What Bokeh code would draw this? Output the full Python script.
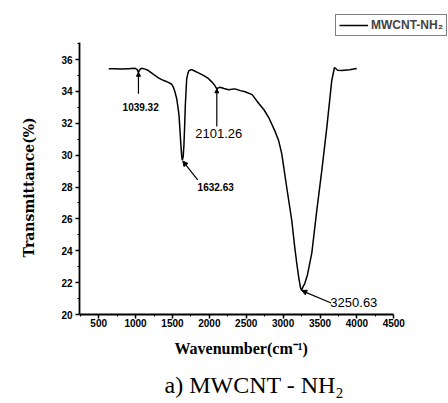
from bokeh.plotting import figure
from bokeh.models import (FixedTicker, Label, Arrow, NormalHead, Legend, LegendItem, Title)
from bokeh.embed import file_html
from bokeh.resources import INLINE

# ---- data ----
wavenumber = [636, 700, 812, 900, 992, 1020, 1039, 1060, 1083, 1130, 1174, 1220, 1263,
              1310, 1354, 1400, 1445, 1490, 1513, 1535, 1558, 1575, 1589, 1600, 1612,
              1624, 1633, 1645, 1655, 1665, 1675, 1693, 1710, 1725, 1761, 1800, 1852,
              1900, 1941, 1990, 2032, 2070, 2101, 2120, 2145, 2200, 2259, 2300, 2348,
              2420, 2484, 2580, 2670, 2740, 2805, 2886, 2940, 2981, 3049, 3117, 3158,
              3185, 3212, 3235, 3250, 3270, 3293, 3330, 3388, 3456, 3524,
              3592, 3659, 3696, 3740, 3795, 3900, 3998]
transmittance = [35.42, 35.42, 35.41, 35.43, 35.45, 35.38, 35.2, 35.38, 35.45, 35.4, 35.31,
                 35.15, 35.0, 34.85, 34.74, 34.65, 34.57, 34.45, 34.26, 33.95, 33.53, 33.0,
                 32.48, 31.7, 30.8, 30.0, 29.68, 29.9, 30.6, 31.8, 33.2, 34.79, 35.15, 35.31,
                 35.37, 35.28, 35.16, 35.05, 34.95, 34.8, 34.6, 34.4, 34.16, 34.22, 34.26,
                 34.18, 34.11, 34.13, 34.16, 34.05, 33.98, 33.8, 33.24, 32.85, 32.36, 31.54,
                 30.9, 30.10, 27.97, 25.9, 24.2, 23.2, 22.32, 21.7, 21.5, 21.75, 21.94, 22.5,
                 23.83, 26.52, 29.03, 31.73, 34.68, 35.5, 35.33, 35.31, 35.36, 35.44]

peak_labels = ["1039.32", "1632.63", "2101.26", "3250.63"]
peak_x = [1039, 1640, 2101, 3252]
peak_y = [35.2, 29.68, 34.16, 21.5]

x_ticks = [500, 1000, 1500, 2000, 2500, 3000, 3500, 4000, 4500]
x_minor = [250, 750, 1250, 1750, 2250, 2750, 3250, 3750, 4250]
y_ticks = [20, 22, 24, 26, 28, 30, 32, 34, 36]
y_minor = [21, 23, 25, 27, 29, 31, 33, 35, 37]
x_axis_span = (240, 4500)
y_axis_span = (20, 37.07)

x_title = "Wavenumber(cm\u207b\u00b9)"
y_title = "Transmittance(%)"
series_name = "MWCNT-NH\u2082"
caption = "a) MWCNT - NH\u2082"

# ---- figure ----
# the frame is extended up and right so that the legend can sit inside it;
# the axes themselves are bounded to the reference's axis span
p = figure(width=448, height=403, x_range=(240, 5241.5), y_range=(20, 39.706),
           output_backend="svg", toolbar_location=None,
           min_border_left=77, min_border_right=0, min_border_top=0, min_border_bottom=89)
p.outline_line_color = None
p.xgrid.visible = False
p.ygrid.visible = False
p.background_fill_color = "white"
p.border_fill_color = "white"

line = p.line(wavenumber, transmittance, line_color="black", line_width=1.5)

for ax in (p.xaxis[0], p.yaxis[0]):
    ax.axis_line_width = 1.8
    ax.axis_line_color = "black"
    ax.major_tick_line_color = "black"
    ax.minor_tick_line_color = "black"
    ax.major_tick_line_width = 1.5
    ax.major_tick_out = 4
    ax.major_tick_in = 0
    ax.minor_tick_out = 2
    ax.minor_tick_in = 0
    ax.major_label_text_font = "Liberation Sans"
    ax.major_label_text_font_style = "bold"
    ax.major_label_text_font_size = "10px"
    ax.major_label_text_color = "black"

p.xaxis.bounds = x_axis_span
p.yaxis.bounds = y_axis_span
p.xaxis.ticker = FixedTicker(ticks=x_ticks, minor_ticks=x_minor)
p.yaxis.ticker = FixedTicker(ticks=y_ticks, minor_ticks=y_minor)
p.xaxis.major_label_standoff = 0
p.yaxis.major_label_standoff = 3

# axis titles placed as panel titles so they can sit under the bounded axes
ylab = Title(text=y_title, align="left", offset=57, vertical_align="top", standoff=40,
             text_font="DejaVu Serif", text_font_style="bold", text_font_size="14px",
             text_color="black")
p.add_layout(ylab, "left")
xlab = Title(text=x_title, align="left", offset=95, vertical_align="top", standoff=21,
             text_font="Liberation Serif", text_font_style="bold", text_font_size="16px",
             text_color="black")
p.add_layout(xlab, "below")

# ---- peak annotations ----
p.add_layout(Arrow(end=NormalHead(size=4, fill_color="black", line_color="black"),
                   x_start=peak_x[0], y_start=33.86, x_end=peak_x[0], y_end=peak_y[0],
                   line_width=1.2, line_color="black"))
p.add_layout(Label(x=1069, y=33.05, text=peak_labels[0], text_font="Liberation Sans",
                   text_font_style="bold", text_font_size="10px", text_align="center",
                   text_baseline="middle", text_color="black"))
p.add_layout(Arrow(end=NormalHead(size=4, fill_color="black", line_color="black"),
                   x_start=peak_x[2], y_start=31.8, x_end=peak_x[2], y_end=peak_y[2],
                   line_width=1.2, line_color="black"))
p.add_layout(Label(x=2127, y=31.36, text=peak_labels[2], text_font="Liberation Sans",
                   text_font_size="13px", text_align="center", text_baseline="middle",
                   text_color="black"))
p.add_layout(Arrow(end=NormalHead(size=5, fill_color="black", line_color="black"),
                   x_start=1842, y_start=28.45, x_end=peak_x[1], y_end=peak_y[1] - 0.05,
                   line_width=1.2, line_color="black"))
p.add_layout(Label(x=2086, y=27.99, text=peak_labels[1], text_font="Liberation Sans",
                   text_font_style="bold", text_font_size="10px", text_align="center",
                   text_baseline="middle", text_color="black"))
p.add_layout(Arrow(end=NormalHead(size=5, fill_color="black", line_color="black"),
                   x_start=3650, y_start=20.72, x_end=peak_x[3], y_end=peak_y[3],
                   line_width=1.2, line_color="black"))
p.add_layout(Label(x=3640, y=20.75, text=peak_labels[3], text_font="Liberation Sans",
                   text_font_size="13px", text_align="left", text_baseline="middle",
                   text_color="black"))

# ---- caption (below the x axis title) ----
cap = Title(text=caption, align="left", offset=85, text_font="Liberation Serif",
            text_font_size="24px", text_font_style="normal", text_color="black",
            standoff=0)
p.add_layout(cap, "below")

# ---- legend (top right) ----
legend = Legend(items=[LegendItem(label=series_name, renderers=[line])],
                location=(256, 278), orientation="vertical",
                label_text_font="Liberation Sans", label_text_font_style="bold",
                label_text_font_size="12px", glyph_width=29, glyph_height=10,
                padding=3, spacing=0, label_standoff=3, margin=0,
                border_line_color="black", border_line_width=1,
                background_fill_color="white", background_fill_alpha=1)
p.add_layout(legend)

open("out.html", "w").write(file_html(p, INLINE))
